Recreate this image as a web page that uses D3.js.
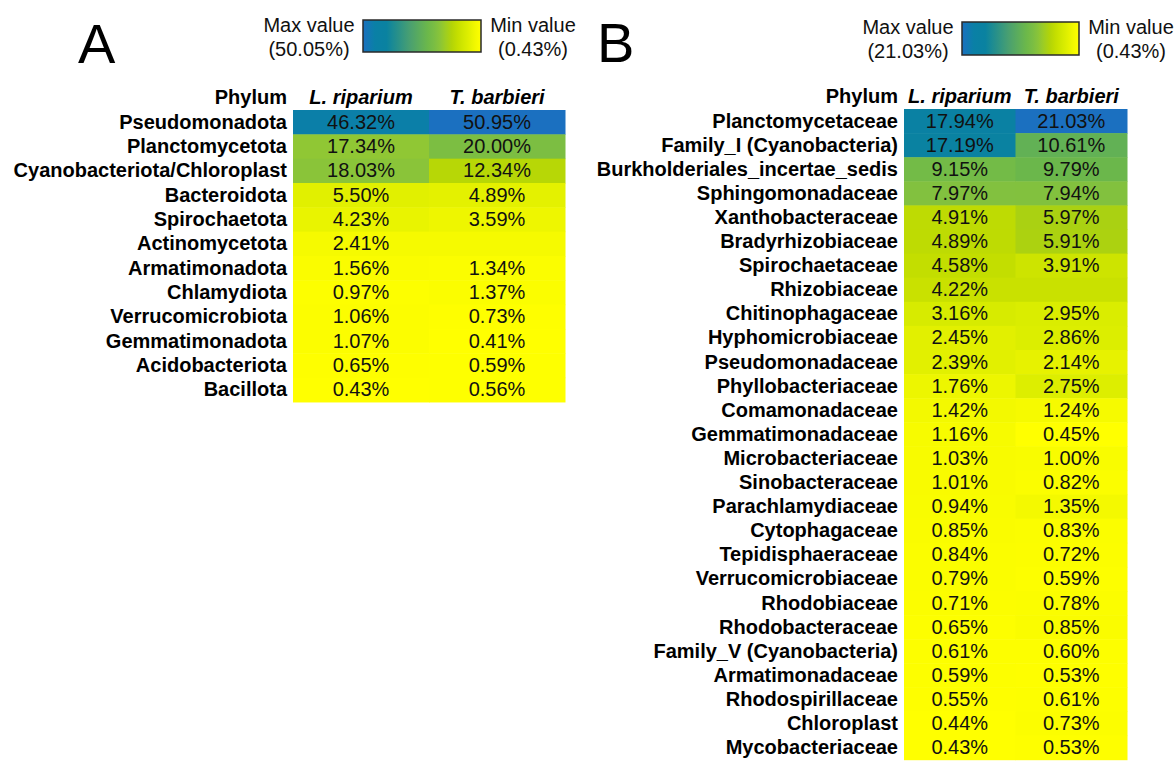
<!DOCTYPE html>
<html>
<head>
<meta charset="utf-8">
<script src="https://cdn.jsdelivr.net/npm/d3@7"></script>
<style>
  html, body { margin: 0; padding: 0; background: #ffffff; }
  svg { display: block; font-family: "Liberation Sans", Arial, Helvetica, sans-serif; }
</style>
</head>
<body>
<svg id="chart" width="1175" height="761"></svg>
<script>
// ---------- DATA ----------
const columns = ["L. riparium", "T. barbieri"];

const phylaA = ["Pseudomonadota", "Planctomycetota", "Cyanobacteriota/Chloroplast", "Bacteroidota",
  "Spirochaetota", "Actinomycetota", "Armatimonadota", "Chlamydiota", "Verrucomicrobiota",
  "Gemmatimonadota", "Acidobacteriota", "Bacillota"];
const lRipariumA = [46.32, 17.34, 18.03, 5.50, 4.23, 2.41, 1.56, 0.97, 1.06, 1.07, 0.65, 0.43];
const tBarbieriA = [50.95, 20.00, 12.34, 4.89, 3.59, null, 1.34, 1.37, 0.73, 0.41, 0.59, 0.56];
const legendA = { maxLabel: "(50.05%)", minLabel: "(0.43%)" };

const familiesB = ["Planctomycetaceae", "Family_I (Cyanobacteria)", "Burkholderiales_incertae_sedis",
  "Sphingomonadaceae", "Xanthobacteraceae", "Bradyrhizobiaceae", "Spirochaetaceae", "Rhizobiaceae",
  "Chitinophagaceae", "Hyphomicrobiaceae", "Pseudomonadaceae", "Phyllobacteriaceae", "Comamonadaceae",
  "Gemmatimonadaceae", "Microbacteriaceae", "Sinobacteraceae", "Parachlamydiaceae", "Cytophagaceae",
  "Tepidisphaeraceae", "Verrucomicrobiaceae", "Rhodobiaceae", "Rhodobacteraceae",
  "Family_V (Cyanobacteria)", "Armatimonadaceae", "Rhodospirillaceae", "Chloroplast", "Mycobacteriaceae"];
const lRipariumB = [17.94, 17.19, 9.15, 7.97, 4.91, 4.89, 4.58, 4.22, 3.16, 2.45, 2.39, 1.76, 1.42,
  1.16, 1.03, 1.01, 0.94, 0.85, 0.84, 0.79, 0.71, 0.65, 0.61, 0.59, 0.55, 0.44, 0.43];
const tBarbieriB = [21.03, 10.61, 9.79, 7.94, 5.97, 5.91, 3.91, null, 2.95, 2.86, 2.14, 2.75, 1.24,
  0.45, 1.00, 0.82, 1.35, 0.83, 0.72, 0.59, 0.78, 0.85, 0.60, 0.53, 0.61, 0.73, 0.53];
const legendB = { maxLabel: "(21.03%)", minLabel: "(0.43%)" };

// colour ramp (normalised position -> colour), min = yellow, max = blue
const rampStops = [0, 0.04, 0.09, 0.13, 0.2, 0.25, 0.33, 0.37, 0.45, 0.6, 0.8, 0.9, 1];
const rampColors = ["#ffff00", "#f6fa00", "#e4f100", "#d8ec00", "#c4de00", "#b2d408", "#92c832",
  "#80c040", "#6cb84a", "#4aa070", "#0a82a0", "#0a80a6", "#1b70c0"];

// ---------- DRAW ----------
const svg = d3.select("#chart");

function drawPanel(cfg) {
  const g = svg.append("g");
  const rows = cfg.rows;
  const vals = [cfg.colA, cfg.colB];
  const all = vals.flat().filter(v => v != null);
  const vmin = d3.min(all), vmax = d3.max(all);
  const norm = d3.scaleLinear().domain([vmin, vmax]).range([0, 1]).clamp(true);
  const ramp = d3.scaleLinear().domain(rampStops).range(rampColors).interpolate(d3.interpolateRgb);
  const color = v => ramp(norm(v));

  const x = d3.scaleBand().domain(columns).range(cfg.xRange).padding(0);
  const y = d3.scaleBand().domain(rows).range([cfg.top, cfg.top + rows.length * cfg.rowH]).padding(0);

  const cells = [];
  rows.forEach((r, i) => {
    columns.forEach((c, j) => {
      const v = vals[j][i];
      const other = vals[1 - j][i];
      cells.push({ row: r, col: c, value: v, fillValue: v != null ? v : other });
    });
  });

  g.selectAll("rect.cell").data(cells).join("rect")
    .attr("class", "cell")
    .attr("x", d => x(d.col))
    .attr("y", d => y(d.row))
    .attr("width", x.bandwidth() + 0.5)
    .attr("height", y.bandwidth() + 0.5)
    .attr("fill", d => color(d.fillValue));

  g.selectAll("text.val").data(cells.filter(d => d.value != null)).join("text")
    .attr("class", "val")
    .attr("x", d => x(d.col) + x.bandwidth() / 2)
    .attr("y", d => y(d.row) + y.bandwidth() / 2 + 6.5)
    .attr("text-anchor", "middle")
    .attr("font-size", 20)
    .attr("fill", "#111")
    .text(d => d.value.toFixed(2) + "%");

  // row labels
  g.selectAll("text.lab").data(rows).join("text")
    .attr("class", "lab")
    .attr("x", cfg.xRange[0] - 6)
    .attr("y", d => y(d) + y.bandwidth() / 2 + 6.5)
    .attr("text-anchor", "end")
    .attr("font-size", 20)
    .attr("font-weight", "bold")
    .attr("fill", "#000")
    .text(d => d);

  // header
  g.append("text")
    .attr("x", cfg.xRange[0] - 6).attr("y", cfg.headerY)
    .attr("text-anchor", "end").attr("font-size", 20).attr("font-weight", "bold")
    .text("Phylum");
  g.selectAll("text.colhead").data(columns).join("text")
    .attr("class", "colhead")
    .attr("x", d => x(d) + x.bandwidth() / 2)
    .attr("y", cfg.headerY)
    .attr("text-anchor", "middle").attr("font-size", 20)
    .attr("font-weight", "bold").attr("font-style", "italic")
    .text(d => d);

  // panel letter
  g.append("text")
    .attr("x", cfg.letterX).attr("y", cfg.letterY)
    .attr("font-size", 56)
    .text(cfg.letter);

  // legend
  const L = cfg.legend;
  const gradId = "grad" + cfg.letter;
  const grad = svg.append("defs").append("linearGradient").attr("id", gradId)
    .attr("x1", "0%").attr("x2", "100%").attr("y1", "0%").attr("y2", "0%");
  d3.range(0, 1.0001, 0.05).forEach(p => {
    grad.append("stop").attr("offset", (p * 100) + "%").attr("stop-color", ramp(1 - p));
  });
  g.append("rect")
    .attr("x", L.x).attr("y", L.y).attr("width", L.w).attr("height", L.h)
    .attr("fill", "url(#" + gradId + ")")
    .attr("stroke", "#2a2a2a").attr("stroke-width", 1.5);
  const maxCx = L.x - 9 - 45;
  const minCx = L.x + L.w + 10 + 42;
  [["Max value", cfg.legendLabels.maxLabel, maxCx], ["Min value", cfg.legendLabels.minLabel, minCx]]
    .forEach(([t1, t2, cx]) => {
      g.append("text").attr("x", cx).attr("y", L.t1).attr("text-anchor", "middle")
        .attr("font-size", 20).attr("fill", "#111").text(t1);
      g.append("text").attr("x", cx).attr("y", L.t2).attr("text-anchor", "middle")
        .attr("font-size", 20).attr("fill", "#111").text(t2);
    });
}

drawPanel({
  letter: "A", letterX: 78, letterY: 63,
  rows: phylaA, colA: lRipariumA, colB: tBarbieriA,
  xRange: [293, 565], top: 110, rowH: 24.33, headerY: 104,
  legend: { x: 363, y: 20, w: 118, h: 32, t1: 32, t2: 56 },
  legendLabels: legendA
});

drawPanel({
  letter: "B", letterX: 597, letterY: 62,
  rows: familiesB, colA: lRipariumB, colB: tBarbieriB,
  xRange: [904, 1127], top: 109, rowH: 24.1, headerY: 103,
  legend: { x: 962, y: 22, w: 117, h: 33, t1: 34, t2: 58 },
  legendLabels: legendB
});
</script>
</body>
</html>
